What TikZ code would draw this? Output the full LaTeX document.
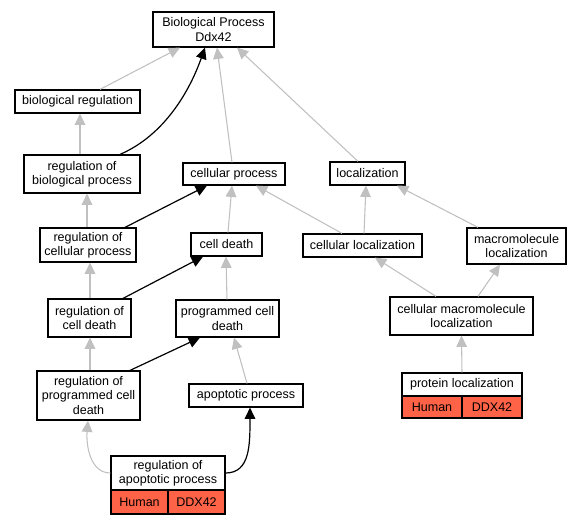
\documentclass[tikz,border=0pt]{standalone}
\usepackage{fontspec}
\setmainfont{Liberation Sans}
\usetikzlibrary{arrows.meta}
\definecolor{edgegray}{HTML}{C0C0C0}
\definecolor{tomatored}{HTML}{FF6347}
\tikzset{
  box/.style={draw=black, fill=white, line width=0.9pt, align=center, inner sep=0pt,
    font=\fontsize{9.4}{10.6}\selectfont},
  sz/.style 2 args={minimum width=#1*0.75pt, minimum height=#2*0.75pt},
  redcell/.style={box, fill=tomatored},
  graylink/.style={draw=edgegray, line width=0.8pt, -{Triangle[length=8.5pt,width=8pt]}},
  blacklink/.style={draw=black, line width=0.9pt, -{Triangle[length=8.5pt,width=8pt]}},
}
\begin{document}
\begin{tikzpicture}[x=0.75pt,y=-0.75pt]
\useasboundingbox (0,0) rectangle (583,525);
% nodes
\node[box, sz={121}{35}] (top) at (213.5,29.5) {Biological Process\\Ddx42};
\node[box, sz={125}{23}] (bioreg) at (77.5,101.5) {biological regulation};
\node[box, sz={116}{38}] (regbio) at (82,174) {regulation of\\biological process};
\node[box, sz={102}{22}] (cellproc) at (234,174) {cellular process};
\node[box, sz={75}{23}] (loc) at (367.5,173.5) {localization};
\node[box, sz={96}{34}] (regcell) at (88,245) {regulation of\\cellular process};
\node[box, sz={71}{23}] (celldeath) at (226.5,244.5) {cell death};
\node[box, sz={119}{23}] (cellloc) at (362.5,245.5) {cellular localization};
\node[box, sz={99}{36}] (macroloc) at (516.5,246) {macromolecule\\localization};
\node[box, sz={83}{38}] (regcd) at (89.5,318) {regulation of\\cell death};
\node[box, sz={103}{37}] (progcd) at (227.5,318.5) {programmed cell\\death};
\node[box, sz={143}{38}] (cellmacro) at (461.5,316) {cellular macromolecule\\localization};
\node[box, sz={103}{49}] (regpcd) at (88.5,395.5) {regulation of\\programmed cell\\death};
\node[box, sz={114}{23}] (apop) at (246,395.5) {apoptotic process};
\node[box, sz={120}{23}] (protloc) at (462,384.5) {protein localization};
\node[redcell, sz={60}{22}] (protlocA) at (432,407) {Human};
\node[redcell, sz={60}{22}] (protlocB) at (492,407) {DDX42};
\node[box, sz={114}{34}] (regapop) at (168,473) {regulation of\\apoptotic process};
\node[redcell, sz={57}{24}] (regapopA) at (139.5,502) {Human};
\node[redcell, sz={57}{24}] (regapopB) at (196.5,502) {DDX42};
% edges
\draw[graylink] ([xshift=22.5*0.75pt]bioreg.north) -- ([xshift=-33.5*0.75pt]top.south);
\draw[graylink] ([xshift=-2*0.75pt]regbio.north) -- ([xshift=2.5*0.75pt]bioreg.south);
\draw[blacklink] ([xshift=38*0.75pt]regbio.north) .. controls (165,135) and (190,90) .. ([xshift=-8.5*0.75pt]top.south);
\draw[graylink] ([xshift=-2*0.75pt]cellproc.north) -- ([xshift=3.5*0.75pt]top.south);
\draw[graylink] ([xshift=-9.5*0.75pt]loc.north) -- ([xshift=23.5*0.75pt]top.south);
\draw[graylink] ([xshift=-1*0.75pt]regcell.north) -- ([xshift=5*0.75pt]regbio.south);
\draw[blacklink] ([xshift=37*0.75pt]regcell.north) -- ([xshift=-27*0.75pt]cellproc.south);
\draw[graylink] ([xshift=1.5*0.75pt]celldeath.north) -- ([xshift=-2*0.75pt]cellproc.south);
\draw[graylink] ([xshift=-20.5*0.75pt]cellloc.north) -- ([xshift=22*0.75pt]cellproc.south);
\draw[graylink] ([xshift=1.5*0.75pt]cellloc.north) -- ([xshift=-1.5*0.75pt]loc.south);
\draw[graylink] ([xshift=-38.5*0.75pt]macroloc.north) -- ([xshift=29.5*0.75pt]loc.south);
\draw[graylink] ([xshift=0.5*0.75pt]regcd.north) -- ([xshift=2*0.75pt]regcell.south);
\draw[blacklink] ([xshift=33.5*0.75pt]regcd.north) -- ([xshift=-23.5*0.75pt]celldeath.south);
\draw[graylink] ([xshift=-0.5*0.75pt]progcd.north) -- ([xshift=-0.5*0.75pt]celldeath.south);
\draw[graylink] ([xshift=-25.5*0.75pt]cellmacro.north) -- ([xshift=12.5*0.75pt]cellloc.south);
\draw[graylink] ([xshift=16.5*0.75pt]cellmacro.north) -- ([xshift=-16.5*0.75pt]macroloc.south);
\draw[graylink] ([xshift=1.5*0.75pt]regpcd.north) -- ([xshift=0.5*0.75pt]regcd.south);
\draw[blacklink] ([xshift=41.5*0.75pt]regpcd.north) -- ([xshift=-27.5*0.75pt]progcd.south);
\draw[graylink] ([xshift=1*0.75pt]apop.north) -- ([xshift=6.5*0.75pt]progcd.south);
\draw[graylink] (regapop.west) .. controls (90,473) and (86,445) .. ([xshift=-0.5*0.75pt]regpcd.south);
\draw[blacklink] (regapop.east) .. controls (250,473) and (250,445) .. ([xshift=4*0.75pt]apop.south);
\draw[graylink] (protloc.north) -- (cellmacro.south);
\end{tikzpicture}
\end{document}
